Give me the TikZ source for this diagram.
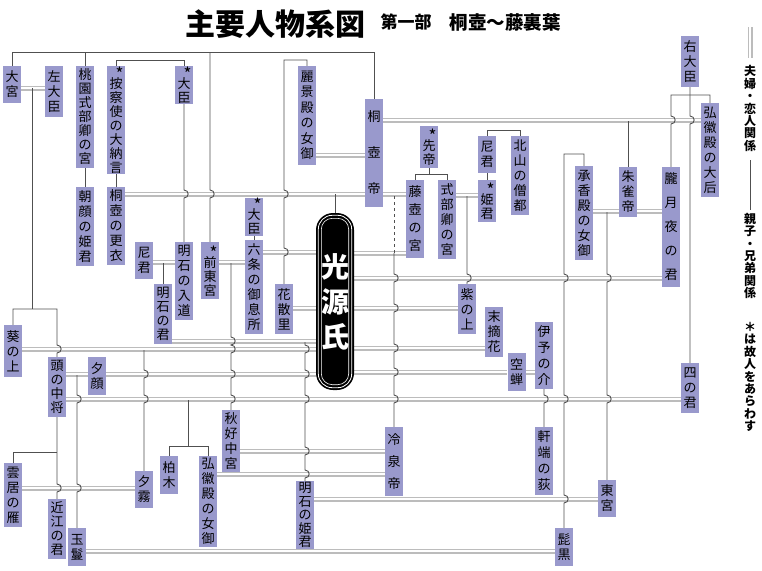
\documentclass[tikz,border=0pt]{standalone}
\usepackage{fontspec}
\newfontfamily\jp{Noto Sans CJK JP}
\usetikzlibrary{backgrounds}
\definecolor{boxc}{RGB}{153,153,204}
\definecolor{dblc}{RGB}{188,188,188}
\definecolor{sglc}{RGB}{80,80,80}
\newcommand\jogat[2]{-- (#1,#2-4) .. controls (#1+5.5,#2-4) and (#1+5.5,#2+4) .. (#1,#2+4)}
\newcommand\astk{\rule{0pt}{9pt}\makebox[15pt][r]{\smash{\raisebox{-5pt}{\fontsize{17}{17}\selectfont *}}}}
\tikzset{
  pbox/.style={fill=boxc, inner sep=0pt, minimum width=18pt, align=center, text=black, font=\jp\fontsize{13}{15}\selectfont},
  pitch/.style={font=\jp\fontsize{13}{#1}\selectfont},
  dl/.style={draw=dblc, line width=1.3pt, double=white, double distance=2.4pt},
  sl/.style={draw=sglc, line width=0.9pt},
  legtext/.style={inner sep=0pt, align=center, font=\jp\bfseries\fontsize{12}{12.4}\selectfont}
}
\begin{document}
\begin{tikzpicture}[x=1pt,y=-1pt]
\useasboundingbox (0,0) rectangle (762,570);
% ---------- title ----------
\node[inner sep=0pt, font=\jp\bfseries\fontsize{30}{30}\selectfont] (title) at (275,24) {主要人物系図};
\node[inner sep=0pt, font=\jp\bfseries\fontsize{17}{17}\selectfont] (sub1) at (406,22) {第一部};
\node[inner sep=0pt, font=\jp\bfseries\fontsize{18.5}{18}\selectfont] (sub2) at (505,22) {桐壺～藤裏葉};
% ---------- persons ----------
\node[pbox, minimum height=37pt, pitch=15] (omiya) at (12,84.5) {大\\宮};
\node[pbox, minimum height=51pt, pitch=15] (sadaijin) at (54,91.5) {左\\大\\臣};
\node[pbox, minimum height=102pt, pitch=14] (momozono) at (85,117) {桃\\園\\式\\部\\卿\\の\\宮};
\node[pbox, minimum height=108pt, pitch=14] (azechi) at (116,120) {\astk\\[-1pt]按\\察\\使\\の\\大\\納\\言};
\node[pbox, minimum height=38pt, pitch=14] (daijin1) at (184,85) {\astk\\[-1pt]大\\臣};
\node[pbox, minimum height=99pt, pitch=15.5] (reikeiden) at (307,115.5) {麗\\景\\殿\\の\\女\\御};
\node[pbox, minimum height=108pt, pitch=36] (kiritsubotei) at (374,153) {桐\\壺\\帝};
\node[pbox, minimum height=42pt, pitch=14] (sentei) at (429,147) {\astk\\[-1pt]先\\帝};
\node[pbox, minimum height=37pt, pitch=15] (amagimi1) at (487,154.5) {尼\\君};
\node[pbox, minimum height=42pt, pitch=14] (himegimi) at (487,201) {\astk\\[-1pt]姫\\君};
\node[pbox, minimum height=79pt, pitch=15] (sozu) at (520,175.5) {北\\山\\の\\僧\\都};
\node[pbox, minimum height=78pt, pitch=18] (fujitsubo) at (415,219) {藤\\壺\\の\\宮};
\node[pbox, minimum height=79pt, pitch=15] (shikibu) at (447,219.5) {式\\部\\卿\\の\\宮};
\node[pbox, minimum height=94pt, pitch=15] (shokyoden) at (584,213) {承\\香\\殿\\の\\女\\御};
\node[pbox, minimum height=50pt, pitch=15] (suzaku) at (628,192) {朱\\雀\\帝};
\node[pbox, minimum height=120pt, pitch=24] (oborozukiyo) at (671,227) {朧\\月\\夜\\の\\君};
\node[pbox, minimum height=51pt, pitch=15] (udaijin) at (690,61.5) {右\\大\\臣};
\node[pbox, minimum height=94pt, pitch=15] (kokiden) at (710,150) {弘\\徽\\殿\\の\\大\\后};
\node[pbox, minimum height=79pt, pitch=15] (asagao) at (85,226.5) {朝\\顔\\の\\姫\\君};
\node[pbox, minimum height=78pt, pitch=15] (koi) at (116,226) {桐\\壺\\の\\更\\衣};
\node[pbox, minimum height=37pt, pitch=15] (amagimi2) at (144,260.5) {尼\\君};
\node[pbox, minimum height=78pt, pitch=15] (nyudo) at (184,281) {明\\石\\の\\入\\道};
\node[pbox, minimum height=60pt, pitch=14] (akashi) at (163,314) {明\\石\\の\\君};
\node[pbox, minimum height=57pt, pitch=14] (zentogu) at (210,270.5) {\astk\\[-1pt]前\\東\\宮};
\node[pbox, minimum height=38pt, pitch=14] (daijin2) at (254,216.5) {\astk\\[-1pt]大\\臣};
\node[pbox, minimum height=94pt, pitch=15] (rokujo) at (254,287) {六\\条\\の\\御\\息\\所};
\node[pbox, minimum height=50pt, pitch=15] (hanachiru) at (284,309) {花\\散\\里};
\node[pbox, minimum height=50pt, pitch=15] (murasaki) at (467,309) {紫\\の\\上};
\node[pbox, minimum height=50pt, pitch=15] (suetsumu) at (494,332) {末\\摘\\花};
\node[pbox, minimum height=38pt, pitch=15] (utsusemi) at (516.5,372) {空\\蝉};
\node[pbox, minimum height=67pt, pitch=16] (iyo) at (544,355.5) {伊\\予\\の\\介};
\node[pbox, minimum height=50pt, pitch=15] (yonokimi) at (690,388) {四\\の\\君};
\node[pbox, minimum height=68pt, pitch=16] (nokiba) at (544,461) {軒\\端\\の\\荻};
\node[pbox, minimum height=37pt, pitch=15] (togu) at (607,498.5) {東\\宮};
\node[pbox, minimum height=38pt, pitch=15] (higekuro) at (564,547) {髭\\黒};
\node[pbox, minimum height=69pt, pitch=22] (reizei) at (394,461.5) {冷\\泉\\帝};
\node[pbox, minimum height=68pt, pitch=13.5] (akashihime) at (305,515) {明\\石\\の\\姫\\君};
\node[pbox, minimum height=52pt, pitch=15] (aoi) at (13,351) {葵\\の\\上};
\node[pbox, minimum height=60pt, pitch=14] (tono) at (57,387) {頭\\の\\中\\将};
\node[pbox, minimum height=38pt, pitch=15] (yugao) at (97,376) {夕\\顔};
\node[pbox, minimum height=62pt, pitch=15] (akikonomu) at (231,441) {秋\\好\\中\\宮};
\node[pbox, minimum height=38pt, pitch=15] (kashiwagi) at (169,475) {柏\\木};
\node[pbox, minimum height=91pt, pitch=15] (kokiden2) at (208,501.5) {弘\\徽\\殿\\の\\女\\御};
\node[pbox, minimum height=37pt, pitch=15] (yugiri) at (144,489.5) {夕\\霧};
\node[pbox, minimum height=64pt, pitch=15] (kumoi) at (13,495) {雲\\居\\の\\雁};
\node[pbox, minimum height=60pt, pitch=14] (omi) at (57,529) {近\\江\\の\\君};
\node[pbox, minimum height=38pt, pitch=15] (tamakazura) at (77,547) {玉\\鬘};
% ---------- Genji ----------
\node[fill=black, rounded corners=17pt, minimum width=38pt, minimum height=177pt, inner sep=0pt,
      text=white, align=center, font=\jp\bfseries\fontsize{28}{35}\selectfont] (genji) at (335,301.5) {光\\源\\氏};
\draw[white, line width=0.8pt, rounded corners=14pt] ([shift={(2.5,-2.5)}]genji.south west) rectangle ([shift={(-2.5,2.5)}]genji.north east);
\draw[white, line width=0.6pt, rounded corners=11pt] ([shift={(5.5,-5.5)}]genji.south west) rectangle ([shift={(-5.5,5.5)}]genji.north east);
% ---------- legend ----------
\node[legtext] (legA) at (750,108.5) {夫\\婦\\・\\恋\\人\\関\\係};
\node[legtext] (legB) at (750,256) {親\\子\\・\\兄\\弟\\関\\係};
\node[legtext] (legC) at (750,377) {＊\\は\\故\\人\\を\\あ\\ら\\わ\\す};
\begin{pgfonlayer}{background}
\fill[white] (0,0) rectangle (762,570);
\coordinate (lg1) at (750,27);
\coordinate (lg2) at (750,58);
\coordinate (lg3) at (750,160);
\coordinate (lg4) at (750,210);
\draw[dl] (lg1) -- (lg2);
\draw[sl] (lg3) -- (lg4);
% ---------- marriages (double lines) ----------
\draw[dl] (omiya.east |- 0,88) -- (sadaijin.west |- 0,88);
\draw[dl] (reikeiden.east |- 0,155) -- (kiritsubotei.west |- 0,155);
\draw[dl] (koi.east |- 0,194) -- (kiritsubotei.west |- 0,194);
\draw[dl] (kiritsubotei.east |- 0,120) -- (kokiden.west |- 0,120);
\draw[dl] (kiritsubotei.east |- 0,194) -- (fujitsubo.west |- 0,194);
\draw[dl] (shikibu.east |- 0,195) -- (himegimi.west |- 0,195);
\draw[dl] (shokyoden.east |- 0,211) -- (suzaku.west |- 0,211);
\draw[dl] (suzaku.east |- 0,211) -- (oborozukiyo.west |- 0,211);
\draw[dl] (zentogu.east |- 0,262) -- (rokujo.west |- 0,262);
\draw[dl] (amagimi2.east |- 0,262) -- (nyudo.west |- 0,262);
\draw[dl] (rokujo.east |- 0,252) -- (genji.west |- 0,252);
\draw[dl] (genji.east |- 0,253) -- (fujitsubo.west |- 0,253);
\draw[dl] (genji.east |- 0,278) -- (oborozukiyo.west |- 0,278);
\draw[dl] (hanachiru.east |- 0,308) -- (genji.west |- 0,308);
\draw[dl] (genji.east |- 0,308) -- (murasaki.west |- 0,308);
\draw[dl] (akashi.east |- 0,341) -- (genji.west |- 0,341);
\draw[dl] (aoi.east |- 0,349) -- (genji.west |- 0,349);
\draw[dl] (genji.east |- 0,348) -- (suetsumu.west |- 0,348);
\draw[dl] (tono.east |- 0,374) -- (yugao.west |- 0,374);
\draw[dl] (yugao.east |- 0,374) -- (genji.west |- 0,374);
\draw[dl] (genji.east |- 0,372) -- (utsusemi.west |- 0,372);
\draw[dl] (utsusemi.east |- 0,372) -- (iyo.west |- 0,372);
\draw[dl] (tono.east |- 0,399) -- (yonokimi.west |- 0,399);
\draw[dl] (akikonomu.east |- 0,451) -- (reizei.west |- 0,451);
\draw[dl] (kokiden2.east |- 0,474) -- (reizei.west |- 0,474);
\draw[dl] (kumoi.east |- 0,488) -- (yugiri.west |- 0,488);
\draw[dl] (akashihime.east |- 0,499) -- (togu.west |- 0,499);
\draw[dl] (tamakazura.east |- 0,551) -- (higekuro.west |- 0,551);
% ---------- parent / sibling lines ----------
\draw[sl] (omiya.north) -- (12,52) -- (374,52) -- (kiritsubotei.north);
\draw[sl] (85,52) -- (momozono.north);
\draw[sl] (210,52) \jogat{210}{194} -- (zentogu.north);
\draw[sl] (azechi.north) -- (116,60) -- (184,60) -- (daijin1.north);
\draw[sl] (daijin1.south) \jogat{184}{194} -- (nyudo.north);
\draw[sl] (azechi.south) -- (koi.north);
\draw[sl] (momozono.south) -- (asagao.north);
\draw[sl] (reikeiden.north) -- (307,60) -- (284,60) \jogat{284}{194} \jogat{284}{252} -- (hanachiru.north);
\draw[sl] (32,88) -- (32,309);
\draw[sl] (aoi.north) -- (13,309) -- (57,309) \jogat{57}{349} -- (tono.north);
\draw[sl] (335,194) -- (genji.north);
\draw[sl, dashed] (394,196) -- (394,253);
\draw[sl] (394,253) \jogat{394}{278} \jogat{394}{308} \jogat{394}{348} \jogat{394}{372} \jogat{394}{399} -- (reizei.north);
\draw[sl] (sentei.south) -- (429,174);
\draw[sl] (fujitsubo.north) -- (415,174) -- (447,174) -- (shikibu.north);
\draw[sl] (amagimi1.south) -- (himegimi.north);
\draw[sl] (amagimi1.north) -- (487,130) -- (520,130) -- (sozu.north);
\draw[sl] (467,196) \jogat{467}{278} -- (murasaki.north);
\draw[sl] (shokyoden.north) -- (584,154) -- (564,154) \jogat{564}{278} \jogat{564}{399} \jogat{564}{499} -- (higekuro.north);
\draw[sl] (607,212) \jogat{607}{278} \jogat{607}{399} -- (togu.north);
\draw[sl] (628,121) -- (suzaku.north);
\draw[sl] (udaijin.south) \jogat{690}{120} -- (yonokimi.north);
\draw[sl] (kokiden.north) -- (710,95) -- (671,95) \jogat{671}{120} -- (oborozukiyo.north);
\draw[sl] (iyo.south) \jogat{544}{399} -- (nokiba.north);
\draw[sl] (163,263) -- (akashi.north);
\draw[sl] (daijin2.south) -- (rokujo.north);
\draw[sl] (231,263) \jogat{231}{341} \jogat{231}{349} \jogat{231}{374} \jogat{231}{399} -- (akikonomu.north);
\draw[sl] (305,342) \jogat{305}{349} \jogat{305}{374} \jogat{305}{399} \jogat{305}{451} \jogat{305}{474} -- (akashihime.north);
\draw[sl] (144,350) \jogat{144}{374} \jogat{144}{399} -- (yugiri.north);
\draw[sl] (77,375) \jogat{77}{399} \jogat{77}{488} -- (tamakazura.north);
\draw[sl] (tono.south) \jogat{57}{488} -- (omi.north);
\draw[sl] (57,452) -- (13,452) -- (kumoi.north);
\draw[sl] (188,400) -- (188,446);
\draw[sl] (kashiwagi.north) -- (169,446) -- (208,446) -- (kokiden2.north);
\end{pgfonlayer}
\end{tikzpicture}
\end{document}
